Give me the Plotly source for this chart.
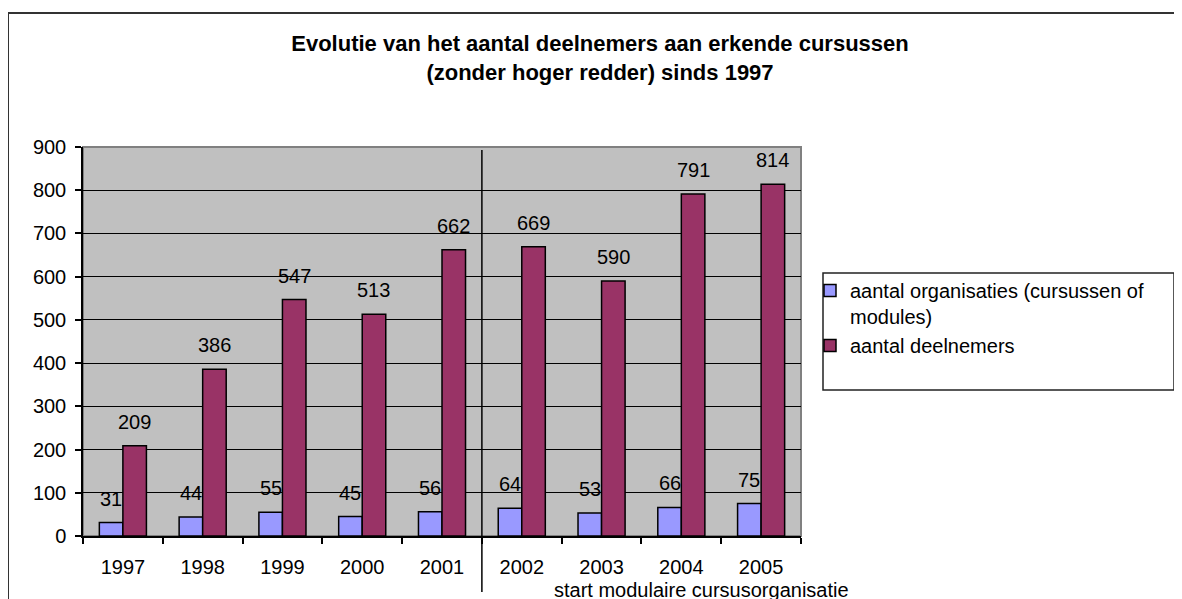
import plotly.graph_objects as go

years = ["1997", "1998", "1999", "2000", "2001", "2002", "2003", "2004", "2005"]
organisaties = [31, 44, 55, 45, 56, 64, 53, 66, 75]
deelnemers = [209, 386, 547, 513, 662, 669, 590, 791, 814]
name_org = "aantal organisaties (cursussen of<br>modules)"
name_deel = "aantal deelnemers"
title_text = "Evolutie van het aantal deelnemers aan erkende cursussen<br>(zonder hoger redder) sinds 1997"
note_text = "start modulaire cursusorganisatie"
split_after = "2001"

# page body has an 8px margin; work in reference-pixel coordinates and compensate
OFF = 8
W, H = 1182 - OFF, 599 - OFF
L, R, T, B = 83, 801, 147, 536
FONT = "Liberation Sans, Arial, sans-serif"
FS = 20
BARGAP = 0.41

def px_x(p):
    return (p - L) / (R - L)

def px_y(p):
    return (B - p) / (B - T)

fig = go.Figure()
fig.add_trace(go.Bar(x=years, y=organisaties, name=name_org,
                     marker=dict(color="#9999FF", line=dict(color="black", width=1.5))))
fig.add_trace(go.Bar(x=years, y=deelnemers, name=name_deel,
                     marker=dict(color="#993366", line=dict(color="black", width=1.5))))

bar_px = (R - L) / len(years) * (1 - BARGAP) / 2
annotations = []
for i, v in enumerate(organisaties):
    annotations.append(dict(x=i, y=v, xref="x", yref="y", text=str(v), showarrow=False,
                            yanchor="bottom", xshift=-bar_px / 2, yshift=11,
                            font=dict(size=FS, color="black", family=FONT)))
for i, v in enumerate(deelnemers):
    annotations.append(dict(x=i, y=v, xref="x", yref="y", text=str(v), showarrow=False,
                            yanchor="bottom", xshift=bar_px / 2, yshift=11,
                            font=dict(size=FS, color="black", family=FONT)))
annotations.append(dict(x=px_x(552), y=px_y(590), xref="paper", yref="paper", text=note_text,
                        showarrow=False, xanchor="left", yanchor="middle",
                        font=dict(size=FS, color="black", family=FONT)))

split_x = (years.index(split_after) + 1) / len(years)

shapes = [
    # outer chart border
    dict(type="rect", xref="paper", yref="paper", x0=px_x(8), x1=px_x(1200),
         y0=px_y(620), y1=px_y(13), line=dict(color="#333333", width=2), layer="below"),
    # plot area border
    dict(type="rect", xref="paper", yref="paper", x0=0, x1=1, y0=0, y1=1,
         line=dict(color="#808080", width=2), layer="between"),
    # separator line
    dict(type="line", xref="paper", yref="paper", x0=split_x, x1=split_x,
         y0=px_y(592), y1=px_y(150), line=dict(color="black", width=1.5), layer="above"),
    # legend box
    dict(type="rect", xref="paper", yref="paper", x0=px_x(823), x1=px_x(1174),
         y0=px_y(390), y1=px_y(273), line=dict(color="#222222", width=1.5),
         fillcolor="white", layer="above"),
]

fig.update_layout(
    width=W, height=H,
    margin=dict(l=L - OFF, r=1182 - R, t=T - OFF, b=599 - B, pad=0, autoexpand=False),
    paper_bgcolor="white", plot_bgcolor="#C0C0C0",
    barmode="group", bargap=BARGAP, bargroupgap=0,
    font=dict(family=FONT, size=FS, color="black"),
    title=dict(text=title_text, x=px_x(600), xref="paper", xanchor="center",
               y=1 - (58 - OFF - 7) / H, yref="container", yanchor="middle",
               font=dict(family=FONT, size=22, color="black", weight="bold")),
    showlegend=True,
    legend=dict(x=px_x(810), y=px_y(271), xanchor="left", yanchor="top",
                bgcolor="rgba(0,0,0,0)", borderwidth=0, valign="top",
                itemwidth=30, font=dict(size=FS, family=FONT, color="black"),
                traceorder="normal"),
    annotations=annotations,
    shapes=shapes,
)
fig.update_xaxes(type="category", categoryorder="array", categoryarray=years,
                 range=[-0.5, len(years) - 0.5], automargin=False,
                 showline=True, linecolor="black", linewidth=1.5,
                 ticks="outside", ticklen=6, tickcolor="black", tickwidth=1.5,
                 tickson="boundaries", showgrid=False, tickangle=0,
                 ticklabelstandoff=12,
                 tickfont=dict(size=FS, family=FONT, color="black"))
fig.update_yaxes(range=[0, 900], dtick=100, automargin=False,
                 showline=True, linecolor="black", linewidth=1.5,
                 ticks="outside", ticklen=6, tickcolor="black", tickwidth=1.5,
                 showgrid=True, gridcolor="black", gridwidth=1, zeroline=False,
                 ticklabelstandoff=5,
                 tickfont=dict(size=FS, family=FONT, color="black"))

fig.write_html("out.html")
